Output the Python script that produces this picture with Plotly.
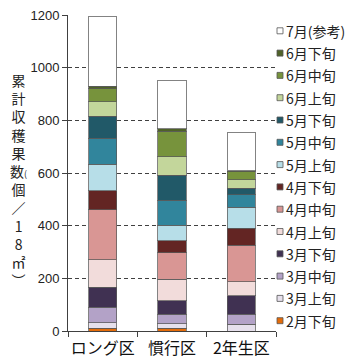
import plotly.graph_objects as go

categories = ["ロング区", "慣行区", "2年生区"]
periods = ["2月下旬", "3月上旬", "3月中旬", "3月下旬", "4月上旬", "4月中旬", "4月下旬",
           "5月上旬", "5月中旬", "5月下旬", "6月上旬", "6月中旬", "6月下旬", "7月(参考)"]
colors = ["#E46C0A", "#E6E0EC", "#B3A2C7", "#403152", "#F2DCDB", "#D99694", "#632523",
          "#B7DEE8", "#31859C", "#215968", "#C3D69B", "#77933C", "#4F6228", "#FFFFFF"]

v_2_late = [10, 11, 0]
v_3_early = [22, 17, 25]
v_3_mid = [58, 36, 39]
v_3_late = [77, 51, 70]
v_4_early = [104, 81, 53]
v_4_mid = [189, 101, 138]
v_4_late = [72, 46, 66]
v_5_early = [101, 58, 79]
v_5_mid = [99, 95, 47]
v_5_late = [83, 96, 25]
v_6_early = [56, 70, 33]
v_6_mid = [49, 96, 29]
v_6_late = [10, 10, 4]
v_7 = [265, 182, 145]
series = [v_2_late, v_3_early, v_3_mid, v_3_late, v_4_early, v_4_mid, v_4_late,
          v_5_early, v_5_mid, v_5_late, v_6_early, v_6_mid, v_6_late, v_7]

y_ticks = [0, 200, 400, 600, 800, 1000, 1200]
y_title_chars = ["累", "計", "収", "穫", "果", "数<span style='font-size:9px'>(</span>", "個", "／",
                 "1", "8", "㎡", "︶"]

fig = go.Figure()
for name, col, vals in zip(periods, colors, series):
    fig.add_trace(go.Bar(
        x=categories, y=vals, name=name,
        marker=dict(color=col, line=dict(color="rgba(90,90,90,0.75)", width=1)),
        showlegend=False,
    ))

# manual legend (top = last period)
L, R, T, B = 68, 72, 15, 29
W, H = 348 - L - R, 360 - T - B
def px(x):
    return (x - L) / W
def py(y):
    return (360 - B - y) / H

row0, step = 30.8, 22.3
for i, (name, col) in enumerate(reversed(list(zip(periods, colors)))):
    yc = row0 + i * step
    fig.add_shape(type="rect", xref="paper", yref="paper",
                  x0=px(277), x1=px(283), y0=py(yc + 3), y1=py(yc - 3),
                  fillcolor=col, line=dict(color="#555555", width=0.8))
    fig.add_annotation(xref="paper", yref="paper", x=px(284), y=py(yc),
                       xanchor="left", yanchor="middle", showarrow=False,
                       text=name, font=dict(size=14, color="#222222",
                                            family="Noto Sans CJK JP"))

fig.add_annotation(xref="paper", yref="paper", x=px(18), y=py(180),
                   xanchor="center", yanchor="middle", showarrow=False,
                   text="<br>".join(y_title_chars), align="center",
                   font=dict(size=14, color="#222222", family="Noto Sans CJK JP"))

fig.update_layout(
    width=348, height=360,
    margin=dict(l=L, r=R, t=T, b=B, pad=0, autoexpand=False),
    barmode="stack", bargap=0.596,
    plot_bgcolor="white", paper_bgcolor="white",
    showlegend=False,
    font=dict(family="Noto Sans CJK JP", color="#222222"),
)
fig.update_xaxes(
    showline=True, linecolor="#404040", linewidth=1,
    ticks="outside", tickson="boundaries", ticklen=5, tickcolor="#404040",
    tickfont=dict(size=16, color="#111111", family="Noto Sans CJK JP"),
    ticklabelstandoff=3, tickangle=0,
    showgrid=False, fixedrange=True, automargin=False,
)
fig.update_yaxes(
    range=[0, 1200], tickvals=y_ticks, ticktext=[str(t) for t in y_ticks],
    showgrid=True, gridcolor="#404040", gridwidth=1, griddash="4px,3px",
    showline=True, linecolor="#404040", linewidth=1,
    ticks="outside", ticklen=5, tickcolor="#404040",
    tickfont=dict(size=13, color="#222222", family="Liberation Sans"),
    zeroline=False, fixedrange=True, automargin=False,
)

fig.write_html("out.html")
